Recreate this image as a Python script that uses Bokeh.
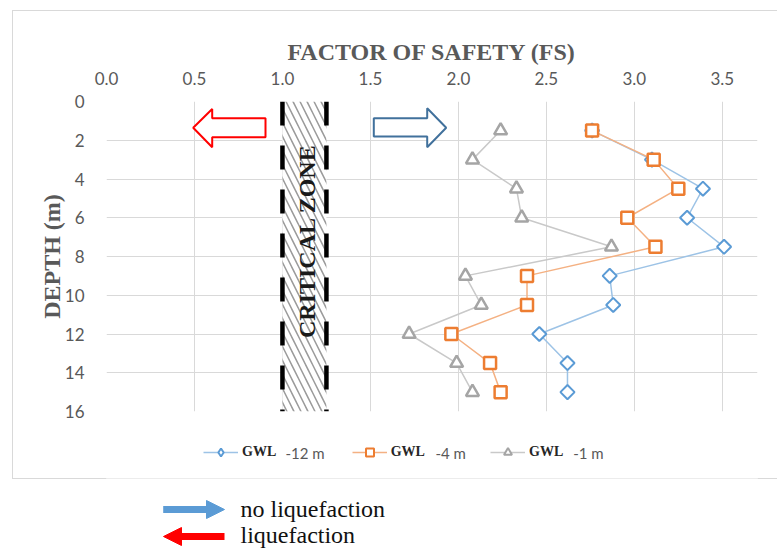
import numpy as np
from bokeh.plotting import figure
from bokeh.layouts import column
from bokeh.models import (Range1d, FixedTicker, Legend, LegendItem, Label, Arrow,
                          NormalHead, PolyAnnotation)
from bokeh.embed import file_html
from bokeh.resources import INLINE

# ---------------- data ----------------
depth = [1.5, 3, 4.5, 6, 7.5, 9, 10.5, 12, 13.5, 15]
fs_gwl_12 = [2.76, 3.10, 3.39, 3.30, 3.51, 2.86, 2.88, 2.46, 2.62, 2.62]
fs_gwl_4 = [2.76, 3.11, 3.25, 2.96, 3.12, 2.39, 2.39, 1.96, 2.18, 2.24]
fs_gwl_1 = [2.24, 2.08, 2.33, 2.36, 2.87, 2.04, 2.13, 1.72, 1.99, 2.08]
series_labels = ["-12 m", "-4 m", "-1 m"]
x_ticks = [0.0, 0.5, 1.0, 1.5, 2.0, 2.5, 3.0, 3.5]
x_tick_labels = ["0.0", "0.5", "1.0", "1.5", "2.0", "2.5", "3.0", "3.5"]
y_ticks = [0, 2, 4, 6, 8, 10, 12, 14, 16]
y_tick_labels = ["0", "2", "4", "6", "8", "10", "12", "14", "16"]
x_limits = [0.0, 3.7]
depth_limits = [0, 16]
critical_zone = [1.0, 1.25]

GRID = "#D9D9D9"
TXT = "#595959"

# page layout (px): chart figure, legend strip, key strip (frames aligned horizontally)
W = 777
FL, FR, FT, FB = 106, 757, 101, 411
HA, HL, HK = 430, 49, 70


def X(px):
    return x_limits[0] + (px - FL) / (FR - FL) * (x_limits[1] - x_limits[0])


def Y(py):
    return depth_limits[0] + (py - FT) / (FB - FT) * (depth_limits[1] - depth_limits[0])


def css_lines(lines):
    """CSS background lines: list of (x, y, w, h) in px."""
    return {
        "background-image": ", ".join(["linear-gradient(#D9D9D9,#D9D9D9)"] * len(lines)),
        "background-size": ", ".join(f"{w}px {h}px" for _, _, w, h in lines),
        "background-position": ", ".join(f"{x}px {y}px" for x, y, _, _ in lines),
        "background-repeat": "no-repeat",
    }


# ================= chart =================
p = figure(width=W, height=HA, output_backend="svg", toolbar_location=None,
           x_range=Range1d(*x_limits), y_range=Range1d(depth_limits[1], depth_limits[0]),
           x_axis_location="above",
           min_border_left=FL, min_border_right=W - FR,
           min_border_top=FT, min_border_bottom=HA - FB)
p.outline_line_color = None
p.background_fill_color = "white"
p.border_fill_color = None
p.border_fill_alpha = 0
p.styles = css_lines([(12, 10, 765, 1), (12, 10, 1, HA - 10)])

xa = p.xaxis[0]
xa.ticker = FixedTicker(ticks=x_ticks)
xa.major_label_overrides = {t: l for t, l in zip(x_ticks, x_tick_labels)}
ya = p.yaxis[0]
ya.ticker = FixedTicker(ticks=y_ticks)
ya.major_label_overrides = {t: l for t, l in zip(y_ticks, y_tick_labels)}
for ax in (xa, ya):
    ax.axis_line_color = None
    ax.major_tick_line_color = None
    ax.minor_tick_line_color = None
    ax.major_label_text_font = "Lato"
    ax.major_label_text_font_size = "17px"
    ax.major_label_text_color = TXT
    ax.axis_label_text_font = "Liberation Serif"
    ax.axis_label_text_font_style = "bold"
    ax.axis_label_text_font_size = "24px"
    ax.axis_label_text_color = TXT
xa.axis_label = "FACTOR OF SAFETY (FS)"
ya.axis_label = "DEPTH (m)"
xa.major_label_standoff = 11
ya.major_label_standoff = 16
xa.axis_label_standoff = 4
ya.axis_label_standoff = -3

p.xgrid.ticker = FixedTicker(ticks=x_ticks)
p.ygrid.ticker = FixedTicker(ticks=y_ticks)
p.xgrid.grid_line_color = GRID
p.ygrid.grid_line_color = GRID

# critical zone
p.quad(left=[critical_zone[0]], right=[critical_zone[1]],
       top=[depth_limits[0]], bottom=[depth_limits[1]],
       fill_color="white", line_color=None,
       hatch_pattern="\\", hatch_color="#9a9a9a", hatch_scale=14, hatch_weight=1.5)
p.segment(x0=critical_zone, y0=[depth_limits[0]] * 2, x1=critical_zone,
          y1=[depth_limits[1]] * 2, line_color="black", line_width=4.5, line_dash="24 20")
p.add_layout(Label(x=X(306), y=Y(240.5), text="CRITICAL ZONE", angle=np.pi / 2,
                   text_align="center", text_baseline="middle",
                   text_font="Liberation Serif", text_font_style="bold",
                   text_font_size="24px", text_color="#1a1a1a"))

# hollow block arrows inside chart
p.add_layout(PolyAnnotation(
    xs=[X(192.7), X(211.7), X(211.7), X(265), X(265), X(211.7), X(211.7)],
    ys=[Y(127.3), Y(108.5), Y(117.7), Y(117.7), Y(136.7), Y(136.7), Y(146.7)],
    fill_color="white", fill_alpha=1, line_color="#FF0000", line_width=2, line_alpha=1))
p.add_layout(PolyAnnotation(
    xs=[X(373.3), X(426.7), X(426.7), X(445.7), X(426.7), X(426.7), X(373.3)],
    ys=[Y(117.7), Y(117.7), Y(107.7), Y(127.3), Y(146.7), Y(136.0), Y(136.0)],
    fill_color="white", fill_alpha=1, line_color="#41719C", line_width=2, line_alpha=1))

styles = [
    dict(fs=fs_gwl_12, line="#9DC3E6", mk="#5B9BD5", marker="square", size=10, angle=np.pi / 4,
         lw=2, legend_marker="diamond"),
    dict(fs=fs_gwl_4, line="#F4B183", mk="#ED7D31", marker="square", size=12, angle=0,
         lw=2.5, legend_marker="square"),
    dict(fs=fs_gwl_1, line="#C9C9C9", mk="#A5A5A5", marker="triangle", size=13, angle=0,
         lw=2.5, legend_marker="triangle"),
]
for s in styles:
    p.line(x=s["fs"], y=depth, line_color=s["line"], line_width=1.5)
    p.scatter(x=s["fs"], y=depth, marker=s["marker"], size=s["size"], angle=s["angle"],
              fill_color="white", line_color=s["mk"], line_width=s["lw"])

# ================= legend strip (page y 430..479) =================
L = figure(width=W, height=HL, output_backend="svg", toolbar_location=None,
           x_range=Range1d(FL, FR), y_range=Range1d(HA + HL, HA),
           x_axis_location=None, y_axis_location=None, min_border=0)
L.grid.visible = False
L.outline_line_color = None
L.background_fill_color = "white"
L.border_fill_color = None
L.border_fill_alpha = 0
L.styles = css_lines([(12, 0, 1, HL), (12, HL - 1, 765, 1)])
L.segment(x0=[FL], y0=[HA + HL - 0.5], x1=[FR], y1=[HA + HL - 0.5],
          line_color=GRID, line_width=1)

legend_glyph_x = [203, 351.7, 490]
legend_cy = 451.7
label_x = [285, 435, 572.7]
for s, gx, lab, lx in zip(styles, legend_glyph_x, series_labels, label_x):
    # hidden copies of the series: only their legend samples are drawn in this strip
    lr = L.line(x=s["fs"], y=depth, line_color=s["line"], line_width=1.5, visible=False)
    sr = L.scatter(x=s["fs"], y=depth, marker=s["legend_marker"],
                   fill_color="white", line_color=s["mk"], line_width=2, visible=False)
    leg = Legend(items=[LegendItem(label="GWL", renderers=[lr, sr])],
                 location=(gx - FL, (HA + HL - legend_cy) - 10),
                 orientation="horizontal", padding=0, margin=0, spacing=0,
                 glyph_width=35, glyph_height=20, label_height=20, label_standoff=4,
                 label_text_font="Liberation Serif", label_text_font_style="bold",
                 label_text_font_size="14px", label_text_color="#262626",
                 border_line_color=None, background_fill_alpha=0)
    L.add_layout(leg)
    L.add_layout(Label(x=lx, y=legend_cy + 1, text=lab, text_baseline="middle",
                       text_font="Lato", text_font_size="15px", text_color=TXT))

# ================= key strip (page y 479..549) =================
K = figure(width=W, height=HK, output_backend="svg", toolbar_location=None,
           x_range=Range1d(FL, FR), y_range=Range1d(HA + HL + HK, HA + HL),
           x_axis_location=None, y_axis_location=None, min_border=0)
K.grid.visible = False
K.outline_line_color = None
K.background_fill_color = "white"
K.border_fill_color = "white"
K.add_layout(Arrow(x_start=162.7, y_start=509, x_end=224, y_end=509,
                   line_color="#5B9BD5", line_width=7,
                   end=NormalHead(size=18, fill_color="#5B9BD5", line_color="#5B9BD5")))
K.add_layout(Arrow(x_start=224, y_start=536, x_end=163, y_end=536,
                   line_color="#FF0000", line_width=7,
                   end=NormalHead(size=18, fill_color="#FF0000", line_color="#FF0000")))
K.add_layout(Label(x=240, y=508, text="no liquefaction", text_baseline="middle",
                   text_font="Liberation Serif", text_font_size="24px", text_color="#111111"))
K.add_layout(Label(x=240, y=534, text="liquefaction", text_baseline="middle",
                   text_font="Liberation Serif", text_font_size="24px", text_color="#111111"))

layout = column(p, L, K, spacing=0)
open("out.html", "w").write(file_html(layout, INLINE))
